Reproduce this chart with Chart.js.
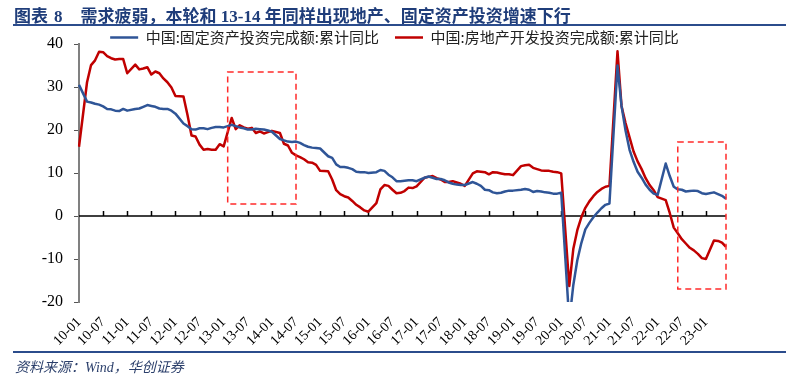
<!DOCTYPE html>
<html lang="zh-CN">
  <head>
    <meta charset="UTF-8" />
    <title>需求疲弱，本轮和13-14年同样出现地产、固定资产投资增速下行</title>
    <script src="https://cdn.jsdelivr.net/npm/chart.js@4.4.0/dist/chart.umd.min.js"></script>
    <style>
      body {
        margin: 0;
        background: #fff;
      }
      .wrap {
        position: relative;
        width: 799px;
        height: 374px;
        overflow: hidden;
      }
      #chart {
        position: absolute;
        left: 0;
        top: 0;
      }
      .title {
        position: absolute;
        left: 14px;
        top: 2px;
        font: bold 17px 'Liberation Serif', 'Noto Sans CJK SC', serif;
        color: #1f3d7a;
        white-space: nowrap;
      }
      .title .num {
        margin: 0 18px 0 6px;
      }
      .rule {
        position: absolute;
        left: 13px;
        width: 773px;
        height: 2px;
        background: #2b4c8c;
      }
      .source {
        position: absolute;
        left: 15px;
        top: 356px;
        font: italic 14px 'Liberation Serif', 'Noto Sans CJK SC', serif;
        color: #2b3f6b;
        white-space: nowrap;
      }
    </style>
  </head>
  <body>
    <div class="wrap">
      <canvas id="chart" width="799" height="374"></canvas>
      <div class="title">
        图表<span class="num">8</span>需求疲弱，本轮和 13-14 年同样出现地产、固定资产投资增速下行
      </div>
      <div class="rule" style="top: 24px"></div>
      <div class="rule" style="top: 351px"></div>
      <div class="source">资料来源：Wind，华创证券</div>
    </div>

    <script>
      // monthly points, 2009-12 .. 2023-05 (no January prints, Jan-Feb is reported together)
      const months = [];
      for (let y = 2009; y <= 2023; y++) {
        for (let m = 1; m <= 12; m++) {
          if ((y === 2009 && m < 12) || (y === 2023 && m > 5)) continue;
          months.push(String(y).slice(2) + '-' + String(m).padStart(2, '0'));
        }
      }

      // axis tick labels, one every 6 points
      const tickLabels = [
        '10-01', '10-07', '11-01', '11-07', '12-01', '12-07', '13-01', '13-07', '14-01',
        '14-07', '15-01', '15-07', '16-01', '16-07', '17-01', '17-07', '18-01', '18-07',
        '19-01', '19-07', '20-01', '20-07', '21-01', '21-07', '22-01', '22-07', '23-01',
      ];

      const faiLabel = '中国:固定资产投资完成额:累计同比';
      const faiValues = [
        30.5,
        null, 26.6, 26.4, 26.1, 25.9, 25.5, 24.9, 24.8, 24.5, 24.4, 24.9, 24.5,
        null, 24.9, 25.0, 25.4, 25.8, 25.6, 25.4, 25.0, 24.9, 24.9, 24.5, 23.8,
        null, 21.5, 20.9, 20.2, 20.1, 20.4, 20.4, 20.2, 20.5, 20.7, 20.7, 20.6,
        null, 21.2, 20.9, 20.6, 20.4, 20.1, 20.1, 20.3, 20.2, 20.1, 19.9, 19.6,
        null, 17.9, 17.6, 17.3, 17.2, 17.3, 17.0, 16.5, 16.1, 15.9, 15.8, 15.7,
        null, 13.9, 13.5, 12.0, 11.4, 11.4, 11.2, 10.9, 10.3, 10.2, 10.2, 10.0,
        null, 10.2, 10.7, 10.5, 9.6, 9.0, 8.1, 8.1, 8.2, 8.3, 8.3, 8.1,
        null, 8.9, 9.2, 8.9, 8.6, 8.6, 8.3, 7.8, 7.5, 7.3, 7.2, 7.2,
        null, 7.9, 7.5, 7.0, 6.1, 6.0, 5.5, 5.3, 5.4, 5.7, 5.9, 5.9,
        null, 6.1, 6.3, 6.1, 5.6, 5.8, 5.7, 5.5, 5.4, 5.2, 5.2, 5.4,
        null, -24.5, -16.1, -10.3, -6.3, -3.1, -1.6, -0.3, 0.8, 1.8, 2.6, 2.9,
        null, 35.0, 25.6, 19.9, 15.4, 12.6, 10.3, 8.9, 7.3, 6.1, 5.2, 4.9,
        null, 12.2, 9.3, 6.8, 6.2, 6.1, 5.7, 5.8, 5.9, 5.8, 5.3, 5.1,
        null, 5.5, 5.1, 4.7, 4.0,
      ];

      const realEstateLabel = '中国:房地产开发投资完成额:累计同比';
      const realEstateValues = [
        16.1,
        null, 31.1, 35.1, 36.2, 38.2, 38.1, 37.2, 36.7, 36.4, 36.5, 36.5, 33.2,
        null, 35.2, 34.1, 34.3, 34.6, 32.9, 33.6, 33.2, 32.0, 31.1, 29.9, 27.9,
        null, 27.8, 23.5, 18.7, 18.5, 16.6, 15.4, 15.6, 15.4, 15.4, 16.7, 16.2,
        null, 22.8, 20.2, 21.1, 20.6, 20.3, 20.5, 19.3, 19.7, 19.2, 19.5, 19.8,
        null, 19.3, 16.8, 16.4, 14.7, 14.1, 13.7, 13.2, 12.5, 12.4, 11.9, 10.5,
        null, 10.4, 8.5, 6.0, 5.1, 4.6, 4.3, 3.5, 2.6, 2.0, 1.3, 1.0,
        null, 3.0, 6.2, 7.2, 7.0, 6.1, 5.3, 5.4, 5.8, 6.6, 6.5, 6.9,
        null, 8.9, 9.1, 9.3, 8.8, 8.5, 7.9, 7.9, 8.1, 7.8, 7.5, 7.0,
        null, 9.9, 10.4, 10.3, 10.2, 9.7, 10.2, 10.1, 9.9, 9.7, 9.7, 9.5,
        null, 11.6, 11.8, 11.9, 11.2, 10.9, 10.6, 10.5, 10.5, 10.3, 10.2, 9.9,
        null, -16.3, -7.7, -3.3, -0.3, 1.9, 3.4, 4.6, 5.6, 6.3, 6.8, 7.0,
        null, 38.3, 25.6, 21.6, 18.3, 15.0, 12.7, 10.9, 8.8, 7.2, 6.0, 4.4,
        null, 3.7, 0.7, -2.7, -4.0, -5.4, -6.4, -7.4, -8.0, -8.8, -9.8, -10.0,
        null, -5.7, -5.8, -6.2, -7.2,
      ];

      // dashed highlight boxes: [first month, last month, top value, bottom value]
      const highlights = [
        ['13-01', '14-06', 33.5, 2.8],
        ['22-05', '23-05', 17.2, -17],
      ];

      // zero line with small ticks on it, plus the dashed boxes
      const extras = {
        id: 'extras',
        afterLayout(chart) {
          // legend sits right on top of the plot, closer than the default box allows
          chart.legend.top += 11;
          chart.legend.bottom += 11;
          chart.legend.left += 31.5;
          chart.legend.right += 31.5;
        },
        beforeDatasetsDraw(chart) {
          const { ctx, chartArea, scales } = chart;
          const y0 = scales.y.getPixelForValue(0);
          ctx.save();
          ctx.strokeStyle = '#000';
          ctx.lineWidth = 1.5;
          ctx.beginPath();
          ctx.moveTo(chartArea.left, y0);
          ctx.lineTo(chartArea.right, y0);
          for (let i = 6; i < months.length; i += 6) {
            const x = Math.round(scales.x.getPixelForValue(i)) + 0.5;
            ctx.moveTo(x, y0);
            ctx.lineTo(x, y0 - 5);
          }
          ctx.stroke();
          ctx.restore();
        },
        afterDatasetsDraw(chart) {
          const { ctx, scales } = chart;
          ctx.save();
          ctx.strokeStyle = '#ff2b2b';
          ctx.lineWidth = 1.5;
          ctx.setLineDash([6, 4]);
          highlights.forEach(([from, to, top, bottom]) => {
            const x1 = scales.x.getPixelForValue(months.indexOf(from));
            const x2 = scales.x.getPixelForValue(months.indexOf(to));
            const y1 = scales.y.getPixelForValue(top);
            const y2 = scales.y.getPixelForValue(bottom);
            ctx.strokeRect(x1, y1, x2 - x1, y2 - y1);
          });
          ctx.restore();
        },
      };

      new Chart(document.getElementById('chart'), {
        type: 'line',
        data: {
          labels: months,
          datasets: [
            {
              label: faiLabel,
              data: faiValues,
              borderColor: '#2f5597',
              backgroundColor: '#2f5597',
              borderWidth: 2.5,
            },
            {
              label: realEstateLabel,
              data: realEstateValues,
              borderColor: '#c00000',
              backgroundColor: '#c00000',
              borderWidth: 2.5,
            },
          ],
        },
        options: {
          responsive: false,
          animation: false,
          spanGaps: true,
          elements: {
            point: { radius: 0 },
            line: { tension: 0, borderJoinStyle: 'round' },
          },
          layout: {
            padding: { top: 3, left: 0, right: 73, bottom: 28 },
          },
          plugins: {
            tooltip: { enabled: false },
            legend: {
              position: 'top',
              labels: {
                usePointStyle: true,
                pointStyle: 'line',
                pointStyleWidth: 28,
                padding: 16,
                color: '#222',
                font: { family: "'Noto Sans CJK SC'", size: 15 },
              },
            },
          },
          scales: {
            x: {
              grid: { display: false, drawTicks: false },
              border: { display: false },
              ticks: {
                autoSkip: false,
                minRotation: 45,
                maxRotation: 45,
                padding: 12,
                color: '#000',
                font: { family: "'Liberation Serif'", size: 14 },
                callback: (value, i) => (i % 6 === 0 ? tickLabels[i / 6] : null),
              },
              afterFit: (scale) => {
                scale.height = 44;
              },
            },
            y: {
              min: -20,
              max: 40,
              ticks: {
                stepSize: 10,
                padding: 11,
                color: '#000',
                font: { family: "'Liberation Serif'", size: 16 },
              },
              grid: {
                drawOnChartArea: false,
                tickLength: 5,
                color: '#555',
              },
              border: { color: '#808080', width: 2 },
              afterFit: (scale) => {
                scale.width = 79;
              },
            },
          },
        },
        plugins: [extras],
      });
    </script>
  </body>
</html>
